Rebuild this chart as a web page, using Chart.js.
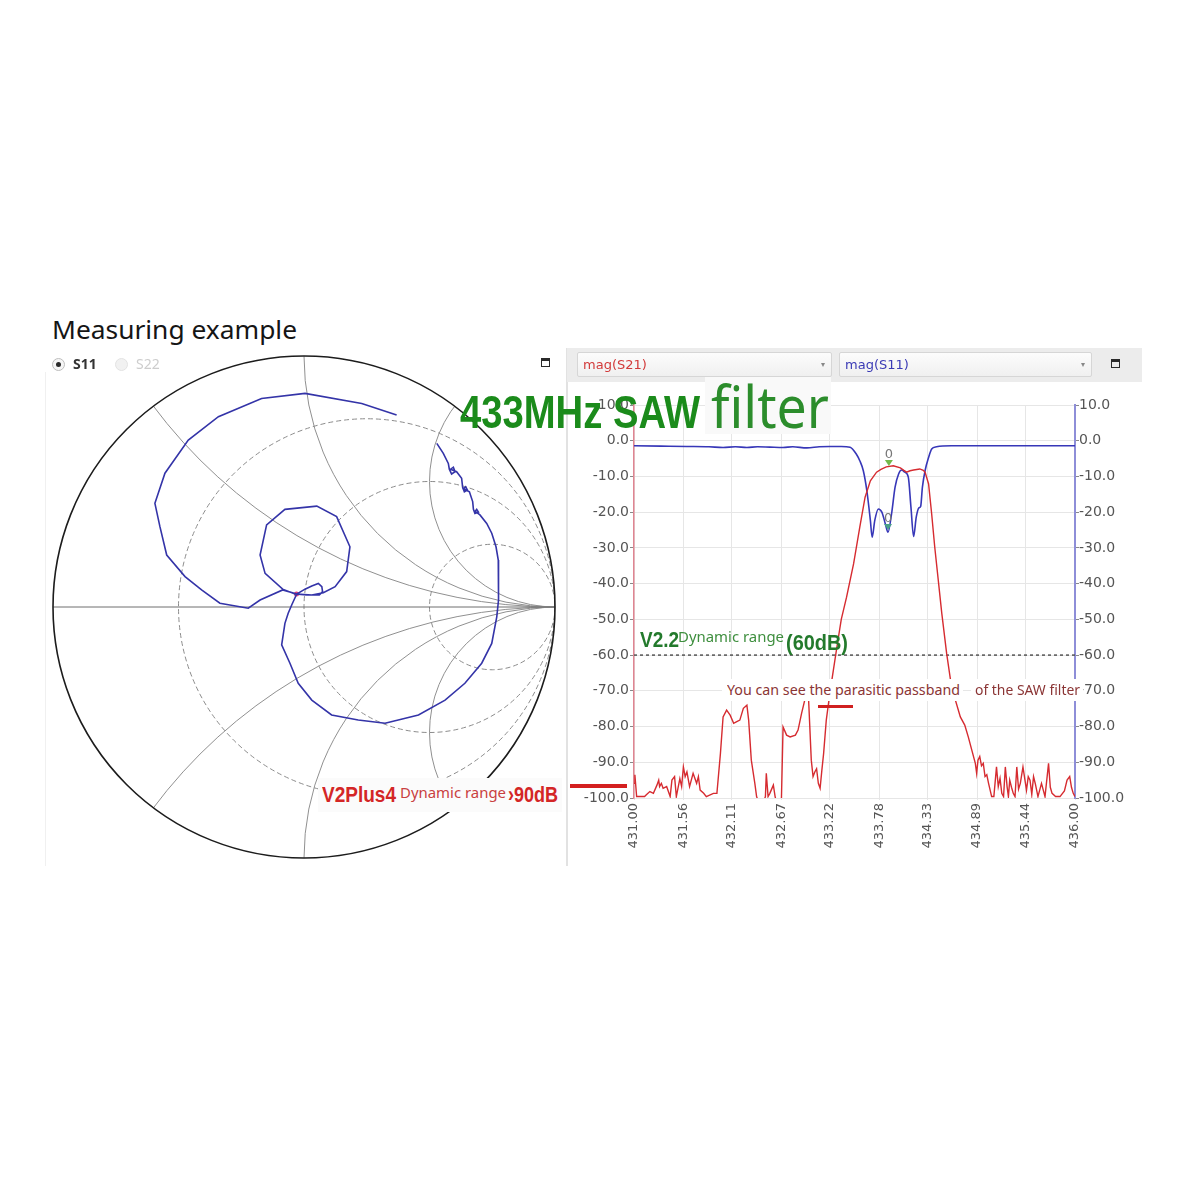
<!DOCTYPE html>
<html><head><meta charset="utf-8">
<script src="https://cdn.jsdelivr.net/npm/chart.js@4.4.1/dist/chart.umd.min.js"></script>
<style>
html,body{margin:0;padding:0;background:#fff;}
#page{position:relative;width:1200px;height:1200px;overflow:hidden;background:#fff;font-family:"Noto Sans",sans-serif;}
.abs{position:absolute;white-space:nowrap;transform-origin:0 0;}
.box{position:absolute;}
.radio{position:absolute;width:11px;height:11px;border-radius:50%;}
.radio.on{border:1px solid #bdbdbd;background:#f6f6f6;}
.radio.on::after{content:'';position:absolute;left:3px;top:3px;width:5px;height:5px;border-radius:50%;background:#2a2a2a;}
.radio.off{border:1px solid #e2e2e2;background:#f1f1f1;}
.icon{position:absolute;width:7px;height:5px;border:1.5px solid #2a2a2a;border-top-width:3px;}
.dd{position:absolute;height:25px;background:linear-gradient(#fcfcfc,#f0f0f0);border:1px solid #d6d6d6;border-radius:2px;font:13px/24px "DejaVu Sans";padding-left:5px;box-sizing:border-box;}
.arr{position:absolute;right:6px;top:0;font-size:8px;color:#888;}
canvas{position:absolute;}
</style></head>
<body><div id="page">

<div class="box" style="left:45px;top:372px;width:1px;height:494px;background:#f0f0f0"></div>
<div class="box" style="left:566px;top:348px;width:2px;height:518px;background:#e2e2e2"></div>
<div class="box" style="left:567px;top:348px;width:575px;height:34px;background:#ececec"></div>

<canvas id="smith" width="520" height="520" style="left:45px;top:350px"></canvas>
<canvas id="rf" width="575" height="485" style="left:567px;top:382px"></canvas>

<div class="abs" data-w="245" style="left:52px;top:316px;font-size:26px;line-height:26px;color:#151515;">Measuring example</div>
<div class="radio on" style="left:52px;top:358px"></div>
<div class="abs" style="left:73px;top:357px;font:bold 14px/14px 'Noto Sans';color:#333">S11</div>
<div class="radio off" style="left:115px;top:358px"></div>
<div class="abs" style="left:136px;top:357px;font:14px/14px 'Noto Sans';color:#cdcdcd">S22</div>
<div class="icon" style="left:541px;top:358px"></div>

<div class="dd" style="left:577px;top:352px;width:255px"><span style="color:#d23a3a">mag(S21)</span><span class="arr">&#9662;</span></div>
<div class="dd" style="left:839px;top:352px;width:253px"><span style="color:#3a3ab5">mag(S11)</span><span class="arr">&#9662;</span></div>
<div class="icon" style="left:1111px;top:359px"></div>

<div class="box" style="left:705px;top:377px;width:126px;height:57px;background:#f9f9f9"></div>
<div class="abs" data-w="240" style="left:460px;top:389px;font:bold 46px/46px 'Liberation Sans';color:#1b8b1b">433MHz SAW</div>
<div class="abs" data-w="118" style="left:711px;top:377px;font:58px/58px 'Noto Sans';color:#2c8d2c">filter</div>

<div class="abs" data-w="39" style="left:640px;top:629px;font:bold 22px/22px 'Liberation Sans';color:#237a2c">V2.2</div>
<div class="abs" data-w="106" style="left:678px;top:630px;font:14px/14px 'Noto Sans';color:#3f8f3f">Dynamic range</div>
<div class="abs" data-w="62" style="left:786px;top:632px;font:bold 22px/22px 'Liberation Sans';color:#237a2c">(60dB)</div>

<div class="box" style="left:722px;top:679px;width:241px;height:22px;background:#fff"></div>
<div class="box" style="left:971px;top:679px;width:112px;height:22px;background:#fff"></div>
<div class="abs" data-w="233" style="left:727px;top:683px;font:14px/14px 'Noto Sans';color:#8b3535">You can see the parasitic passband</div>
<div class="abs" data-w="105" style="left:975px;top:683px;font:14px/14px 'Noto Sans';color:#8b3535">of the SAW filter</div>
<div class="box" style="left:818px;top:705px;width:35px;height:3px;background:#d02020"></div>

<div class="box" style="left:318px;top:778px;width:244px;height:34px;background:#fbfbfb"></div>
<div class="abs" data-w="74" style="left:322px;top:784px;font:bold 22px/22px 'Liberation Sans';color:#d42626">V2Plus4</div>
<div class="abs" data-w="106" style="left:400px;top:786px;font:14px/14px 'Noto Sans';color:#c94040">Dynamic range</div>
<div class="abs" data-w="50" style="left:508px;top:784px;font:bold 22px/22px 'Liberation Sans';color:#d42626">&#8250;90dB</div>
<div class="box" style="left:570px;top:784px;width:57px;height:4px;background:#d42020"></div>

</div>
<script>
// ---------- Smith chart (S11, reflection coefficient) ----------
const resistanceCircles = [1/3, 1, 3];
const reactanceArcs = [0.5, 1, 2];
const s11Re = [0.529,0.555,0.575,0.579,0.588,0.602,0.595,0.584,0.608,0.628,
  0.632,0.639,0.651,0.644,0.635,0.659,0.672,0.675,0.681,0.695,
  0.688,0.682,0.701,0.728,0.748,0.765,0.774,0.776,0.774,0.768,
  0.748,0.708,0.641,0.562,0.456,0.323,0.216,0.110,0.031,-0.023,
  -0.056,-0.089,-0.076,-0.063,-0.049,-0.029,0.004,0.031,0.057,0.071,
  0.074,0.061,0.011,-0.036,-0.085,-0.155,-0.175,-0.149,-0.076,0.051,
  0.130,0.183,0.170,0.124,0.077,0.031,-0.029,-0.085,-0.175,-0.222,
  -0.335,-0.408,-0.474,-0.547,-0.574,-0.594,-0.554,-0.461,-0.341,-0.169,
  0.004,0.230,0.369];
const s11Im = [0.652,0.612,0.572,0.549,0.530,0.539,0.557,0.549,0.539,0.513,
  0.477,0.459,0.466,0.479,0.471,0.459,0.420,0.389,0.373,0.378,
  0.389,0.381,0.367,0.333,0.294,0.240,0.187,0.110,0.028,-0.039,
  -0.145,-0.224,-0.304,-0.371,-0.430,-0.463,-0.450,-0.430,-0.371,-0.304,
  -0.224,-0.151,-0.065,-0.025,0.008,0.052,0.071,0.084,0.094,0.081,
  0.061,0.048,0.048,0.052,0.071,0.134,0.207,0.327,0.389,0.402,
  0.360,0.240,0.141,0.081,0.057,0.048,0.052,0.068,0.028,-0.005,
  0.015,0.068,0.121,0.207,0.320,0.413,0.533,0.665,0.758,0.831,
  0.851,0.811,0.765];
const smithMarker = [-0.03, 0.052];

// ---------- Rectangular chart ----------
const xTickLabels = ['431.00','431.56','432.11','432.67','433.22','433.78','434.33','434.89','435.44','436.00'];
const yMin = -100, yMax = 10, yStep = 10;
const refLevelDb = -60;
const s21Freq = [431.00,431.01,431.03,431.12,431.14,431.18,431.22,431.26,431.28,431.29,
  431.31,431.33,431.37,431.41,431.43,431.46,431.48,431.52,431.54,431.56,
  431.58,431.60,431.63,431.67,431.71,431.73,431.75,431.79,431.82,431.90,
  431.94,431.98,432.01,432.05,432.09,432.13,432.16,432.20,432.24,432.28,
  432.30,432.33,432.37,432.39,432.44,432.49,432.50,432.52,432.54,432.58,
  432.60,432.63,432.67,432.69,432.73,432.77,432.83,432.86,432.90,432.94,
  432.96,432.98,433.01,433.03,433.05,433.07,433.09,433.11,433.13,433.15,
  433.18,433.22,433.26,433.30,433.35,433.41,433.49,433.56,433.62,433.68,
  433.75,433.80,433.86,433.94,434.02,434.06,434.09,434.13,434.17,434.24,
  434.28,434.30,434.34,434.375,434.41,434.45,434.49,434.545,434.60,434.70,
  434.75,434.79,434.83,434.87,434.885,434.90,434.92,434.94,434.96,434.98,
  435.00,435.02,435.055,435.08,435.11,435.13,435.15,435.17,435.19,435.21,
  435.23,435.245,435.26,435.28,435.30,435.32,435.34,435.36,435.38,435.41,
  435.45,435.47,435.49,435.51,435.53,435.55,435.58,435.62,435.66,435.70,
  435.72,435.74,435.78,435.83,435.88,435.91,435.94,435.96,435.98,436.00];
const s21Db = [-95.9,-93.5,-99.6,-99.6,-99.1,-98.2,-98.7,-96.4,-95.0,-96.8,
  -95.9,-97.3,-96.8,-99.6,-95.0,-94.0,-99.6,-94.6,-96.8,-91.3,
  -94.0,-92.7,-96.8,-93.1,-95.9,-94.0,-97.8,-98.7,-99.6,-98.7,
  -98.7,-87.5,-77.3,-75.4,-76.8,-79.1,-78.7,-78.2,-74.9,-74.0,
  -78.2,-89.4,-95.9,-99.6,-103,-99.6,-93.1,-99.6,-98.7,-96.4,
  -99.6,-103,-102,-80.1,-82.4,-82.9,-82.4,-81.0,-76.3,-72.2,
  -67.0,-72.7,-89.4,-94.0,-92.7,-91.8,-95.9,-97.3,-92.2,-87.5,
  -78.2,-70.8,-64.3,-57.8,-50.0,-43.8,-34.4,-24.2,-15.8,-11.2,
  -8.8,-8.0,-7.3,-7.0,-7.6,-8.3,-8.8,-8.4,-8.2,-7.9,
  -8.3,-8.8,-12.1,-20.5,-29.8,-39.1,-48.4,-59.6,-68.9,-77.3,
  -79.6,-82.9,-86.6,-90.3,-93.1,-89.4,-88.4,-91.0,-90.3,-94.0,
  -93.5,-95.9,-99.6,-99.6,-91.3,-96.8,-94.5,-98.7,-99.6,-91.3,
  -96.8,-99.6,-95.0,-97.0,-98.7,-99.6,-91.3,-97.5,-95.9,-91.3,
  -97.8,-94.0,-95.0,-99.0,-94.0,-96.0,-99.6,-95.9,-99.6,-90.3,
  -97.0,-98.7,-99.6,-99.6,-98.0,-95.0,-94.0,-97.0,-98.7,-99.6];
const s11Freq = [431.00,431.30,431.60,431.85,432.01,432.15,432.28,432.40,432.54,432.69,
  432.80,432.96,433.10,433.22,433.35,433.45,433.52,433.56,433.60,433.64,
  433.68,433.70,433.73,433.77,433.81,433.85,433.88,433.92,433.96,434.00,
  434.035,434.07,434.11,434.14,434.17,434.20,434.23,434.25,434.27,434.30,
  434.34,434.375,434.43,434.60,435.00,435.50,436.00];
const s11Db = [-1.4,-1.5,-1.6,-1.7,-1.9,-1.7,-1.9,-1.7,-1.8,-1.9,
  -1.7,-2.0,-1.7,-1.6,-1.6,-1.8,-3.7,-5.6,-8.4,-14.0,
  -22.3,-27.0,-22.3,-19.1,-20.0,-23.3,-25.6,-20.5,-13.0,-9.3,
  -8.2,-8.8,-10.2,-18.6,-26.8,-21.4,-18.8,-18.4,-13.0,-8.4,
  -4.7,-2.3,-1.7,-1.4,-1.4,-1.4,-1.4];
const markerFreq = [433.89, 433.88];
const markerDb = [-7.1, -25.0];
const markerLabel = ['0', '0'];

function fitTexts(){
  document.querySelectorAll('[data-w]').forEach(el=>{
    el.style.transform='none';
    const w = el.getBoundingClientRect().width;
    const target = parseFloat(el.dataset.w);
    if (w > 0) el.style.transform = 'scaleX(' + (target / w) + ')';
  });
}
fitTexts();
if (document.fonts && document.fonts.ready) document.fonts.ready.then(fitTexts);

const smithGrid = {
  id: 'smithGrid',
  beforeDatasetsDraw(chart){
    const {ctx, scales:{x, y}} = chart;
    const px = v => x.getPixelForValue(v), py = v => y.getPixelForValue(v);
    const R = px(1) - px(0), cx = px(0), cy = py(0);
    ctx.save();
    ctx.beginPath(); ctx.arc(cx, cy, R, 0, Math.PI*2); ctx.clip();
    ctx.lineWidth = 1;
    ctx.strokeStyle = '#8c8c8c'; ctx.setLineDash([5,3]);
    resistanceCircles.forEach(r => { ctx.beginPath(); ctx.arc(px(r/(1+r)), cy, R/(1+r), 0, Math.PI*2); ctx.stroke(); });
    ctx.setLineDash([]); ctx.strokeStyle = '#909090';
    reactanceArcs.forEach(xv => [1,-1].forEach(s => { ctx.beginPath(); ctx.arc(px(1), py(s/xv), R/xv, 0, Math.PI*2); ctx.stroke(); }));
    ctx.restore();
    ctx.save();
    ctx.strokeStyle = '#6f6f6f'; ctx.lineWidth = 1;
    ctx.beginPath(); ctx.moveTo(px(-1), cy); ctx.lineTo(px(1), cy); ctx.stroke();
    ctx.strokeStyle = '#1c1c1c'; ctx.lineWidth = 1.6;
    ctx.beginPath(); ctx.arc(cx, cy, R, 0, Math.PI*2); ctx.stroke();
    ctx.restore();
  }
};

new Chart(document.getElementById('smith'), {
  type: 'scatter',
  data: { datasets: [
    { data: s11Re.map((v,i)=>({x:v, y:s11Im[i]})), showLine:true, borderColor:'#3434a8', borderWidth:1.6, pointRadius:0, tension:0, clip:false },
    { data: [{x:smithMarker[0], y:smithMarker[1]}], pointRadius:2.5, pointBackgroundColor:'#e0407a', pointBorderWidth:0, clip:false }
  ]},
  options: {
    animation:false, responsive:false, maintainAspectRatio:false,
    layout:{padding:{left:8, right:10, top:6, bottom:12}},
    plugins:{legend:{display:false}, tooltip:{enabled:false}},
    scales:{ x:{type:'linear', min:-1, max:1, display:false}, y:{type:'linear', min:-1, max:1, display:false} }
  },
  plugins:[smithGrid]
});

const markerPlugin = {
  id:'markers',
  afterDatasetsDraw(chart){
    const {ctx, scales} = chart;
    const axes = ['yL','yR'];
    const cols = ['#74b84a','#4aa08a'];
    markerFreq.forEach((f,i)=>{
      const x = scales.x.getPixelForValue(f);
      const y = scales[axes[i]].getPixelForValue(markerDb[i]);
      ctx.save();
      ctx.fillStyle = cols[i];
      ctx.beginPath(); ctx.moveTo(x, y); ctx.lineTo(x-4, y-6); ctx.lineTo(x+4, y-6); ctx.closePath(); ctx.fill();
      ctx.fillStyle = '#777'; ctx.font = '13px "DejaVu Sans"'; ctx.textAlign = 'center'; ctx.textBaseline='alphabetic';
      ctx.fillText(markerLabel[i], x, y-8);
      ctx.restore();
    });
  }
};

const tickFont = {family:'DejaVu Sans', size:14};
new Chart(document.getElementById('rf'), {
  type: 'line',
  data: { datasets: [
    { label:'mag(S21)', data: s21Freq.map((f,i)=>({x:f, y:s21Db[i]})), borderColor:'#d62b30', borderWidth:1.4, pointRadius:0, tension:0, yAxisID:'yL' },
    { label:'mag(S11)', data: s11Freq.map((f,i)=>({x:f, y:s11Db[i]})), borderColor:'#3737b8', borderWidth:1.6, pointRadius:0, tension:0.3, cubicInterpolationMode:'monotone', yAxisID:'yR' },
    { label:'ref', data: [{x:431, y:refLevelDb},{x:436, y:refLevelDb}], borderColor:'#555', borderWidth:1.5, borderDash:[3,3], pointRadius:0, yAxisID:'yL' }
  ]},
  options: {
    animation:false, responsive:false, maintainAspectRatio:false,
    layout:{padding:{top:23, left:0, right:0, bottom:0}},
    plugins:{legend:{display:false}, tooltip:{enabled:false}},
    scales:{
      x:{ type:'linear', min:431, max:436,
        afterBuildTicks: s => { s.ticks = xTickLabels.map(l => ({value: parseFloat(l)})); },
        ticks:{ autoSkip:false, minRotation:90, maxRotation:90, padding:3, color:'#555', font:{family:'DejaVu Sans', size:13}, callback:(v,i)=>xTickLabels[i] },
        grid:{ color:'#e6e6e6', tickLength:2 }, border:{display:false},
        afterFit: s => { s.height = 69; } },
      yL:{ type:'linear', position:'left', min:yMin, max:yMax,
        ticks:{ stepSize:yStep, padding:1, color:'#555', font:tickFont, callback:v=>v.toFixed(1) },
        grid:{ color:'#e6e6e6', tickLength:4, tickColor:'#888' }, border:{color:'#e08592', width:1.5},
        afterFit: s => { s.width = 67; } },
      yR:{ type:'linear', position:'right', min:yMin, max:yMax,
        ticks:{ stepSize:yStep, padding:0, color:'#555', font:tickFont, callback:v=>v.toFixed(1) },
        grid:{ drawOnChartArea:false, tickLength:4, tickColor:'#888' }, border:{color:'#8e8ed8', width:2},
        afterFit: s => { s.width = 67; } }
    }
  },
  plugins:[markerPlugin]
});
</script>
</body></html>
